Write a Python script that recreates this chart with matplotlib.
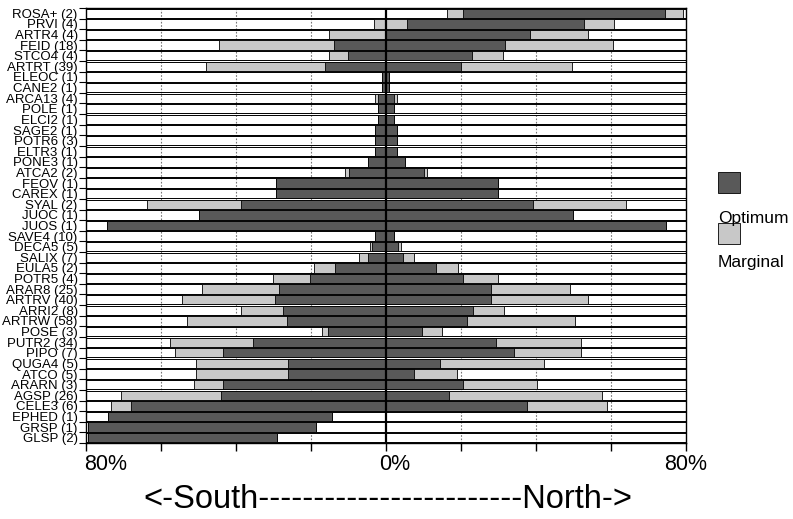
import matplotlib
matplotlib.use('Agg')
import matplotlib.pyplot as plt
from matplotlib import font_manager
from matplotlib.patches import Rectangle
from matplotlib.transforms import ScaledTranslation
import numpy as np

# species codes (number of plots) - top to bottom
species = ['ROSA+ (2)', 'PRVI (4)', 'ARTR4 (4)', 'FEID (18)', 'STCO4 (4)', 'ARTRT (39)',
           'ELEOC (1)', 'CANE2 (1)', 'ARCA13 (4)', 'POLE (1)', 'ELCI2 (1)', 'SAGE2 (1)',
           'POTR6 (3)', 'ELTR3 (1)', 'PONE3 (1)', 'ATCA2 (2)', 'FEOV (1)', 'CAREX (1)',
           'SYAL (2)', 'JUOC (1)', 'JUOS (1)', 'SAVE4 (10)', 'DECA5 (5)', 'SALIX (7)',
           'EULA5 (2)', 'POTR5 (4)', 'ARAR8 (25)', 'ARTRV (40)', 'ARRI2 (8)', 'ARTRW (58)',
           'POSE (3)', 'PUTR2 (34)', 'PIPO (7)', 'QUGA4 (5)', 'ATCO (5)', 'ARARN (3)',
           'AGSP (26)', 'CELE3 (6)', 'EPHED (1)', 'GRSP (1)', 'GLSP (2)']

# aspect range in % (negative = south, positive = north)
marg_lo = [16.2, -3.2, -15.1, -44.5, -15.1, -47.9,
           -1.1, -1.1, -2.9, -2.1, -2.1, -2.9,
           -2.9, -2.9, -4.8, -10.9, -29.4, -29.4,
           -63.8, -49.8, -74.4, -2.9, -4.2, -7.2,
           -19.1, -30.2, -49.0, -54.3, -38.7, -53.0,
           -17.2, -57.5, -56.4, -50.6, -50.6, -51.1,
           -70.7, -73.4, -74.2, -79.5, -79.5]
opt_lo = [20.4, 5.6, -0.3, -14.0, -10.1, -16.2,
          -1.1, -1.1, -2.1, -2.1, -2.1, -2.9,
          -2.9, -2.9, -4.8, -9.8, -29.4, -29.4,
          -38.7, -49.8, -74.4, -2.9, -3.7, -4.8,
          -13.5, -20.4, -28.6, -29.7, -27.5, -26.5,
          -15.6, -35.5, -43.4, -26.2, -26.2, -43.4,
          -44.0, -68.1, -74.2, -79.5, -79.5]
opt_hi = [74.4, 52.7, 38.4, 31.8, 22.8, 19.9,
          0.8, 0.8, 2.1, 2.1, 2.1, 2.9,
          2.9, 2.9, 5.0, 10.1, 29.9, 29.9,
          39.2, 49.8, 74.6, 2.1, 3.2, 4.5,
          13.2, 20.4, 28.1, 28.1, 23.3, 21.5,
          9.5, 29.4, 34.2, 14.3, 7.4, 20.4,
          16.7, 37.6, -14.3, -18.8, -29.1]
marg_hi = [79.2, 60.7, 53.8, 60.4, 31.3, 49.5,
           0.8, 0.8, 2.9, 2.1, 2.1, 2.9,
           2.9, 2.9, 5.0, 10.9, 29.9, 29.9,
           64.1, 49.8, 74.6, 2.1, 4.0, 7.4,
           19.3, 29.9, 49.0, 53.8, 31.5, 50.3,
           14.8, 51.9, 51.9, 42.1, 18.8, 40.3,
           57.5, 58.8, -14.3, -18.8, -29.1]

dark = '#595959'
light = '#c8c8c8'

names = {f.name for f in font_manager.fontManager.ttflist}
narrow = 'Liberation Sans Narrow' if 'Liberation Sans Narrow' in names else 'Liberation Sans'

fig = plt.figure(figsize=(7.93, 5.19), dpi=100)
ax = fig.add_axes([86/793, 1-443/519, 600/793, 435/519])

n = len(species)
y = np.arange(n)
h = 0.88
lo = np.array(marg_lo)
hi = np.array(marg_hi)
olo = np.array(opt_lo)
ohi = np.array(opt_hi)

# row boxes (outlined, no fill)
ax.barh(y, 160, left=-80, height=h, facecolor='none', edgecolor='black', lw=0.7, zorder=1)
ax.barh(y, hi - lo, left=lo, height=h, color=light, edgecolor='black', lw=0.6, zorder=2)
ax.barh(y, ohi - olo, left=olo, height=h, color=dark, edgecolor='black', lw=0.6, zorder=3)

for gx in [-60, -40, -20, 20, 40, 60]:
    ax.axvline(gx, color='#777777', lw=0.8, ls=(0, (1.5, 1.5)), zorder=0.5)
ax.axvline(0, color='black', lw=1.6, zorder=5)

ax.set_xlim(-80, 80)
ax.set_ylim(n - 0.5, -0.5)

ax.set_xticks([-80, 0, 80])
ax.set_xticklabels(['80%', '0%', '80%'], family=narrow, fontsize=15.5)
ax.set_xticks(np.arange(-80, 81, 20), minor=True)
ax.tick_params(axis='x', which='both', direction='out', length=6, width=1, pad=2)
# nudge tick labels like the original
for lab, dx in zip(ax.get_xticklabels(), [0.2, 0.09, 0.0]):
    lab.set_transform(lab.get_transform() + ScaledTranslation(dx, 0, fig.dpi_scale_trans))

ax.set_yticks(y)
ax.set_yticklabels(species, fontsize=9.5, family='Liberation Sans')
ax.set_yticks(np.arange(-0.5, n, 1), minor=True)
ax.tick_params(axis='y', which='major', length=0, pad=6)
ax.tick_params(axis='y', which='minor', length=5, width=0.8, direction='out')

for s in ax.spines.values():
    s.set_linewidth(1)
    s.set_color('black')

fig.text(388/793, 1-500/519, '<-South' + '-'*24 + 'North->', ha='center', va='center',
         fontsize=23.5, family=narrow)

# legend
fig.patches.append(Rectangle((718/793, 1-193/519), 22/793, 21/519, transform=fig.transFigure,
                             facecolor=dark, edgecolor='black', lw=0.6))
fig.text(718/793, 1-218/519, 'Optimum', ha='left', va='center', fontsize=12.5, family='Liberation Sans')
fig.patches.append(Rectangle((718/793, 1-244/519), 22/793, 21/519, transform=fig.transFigure,
                             facecolor=light, edgecolor='black', lw=0.6))
fig.text(718/793, 1-262/519, 'Marginal', ha='left', va='center', fontsize=12.5, family='Liberation Sans')

fig.savefig('out.png', dpi=100, facecolor='white')
